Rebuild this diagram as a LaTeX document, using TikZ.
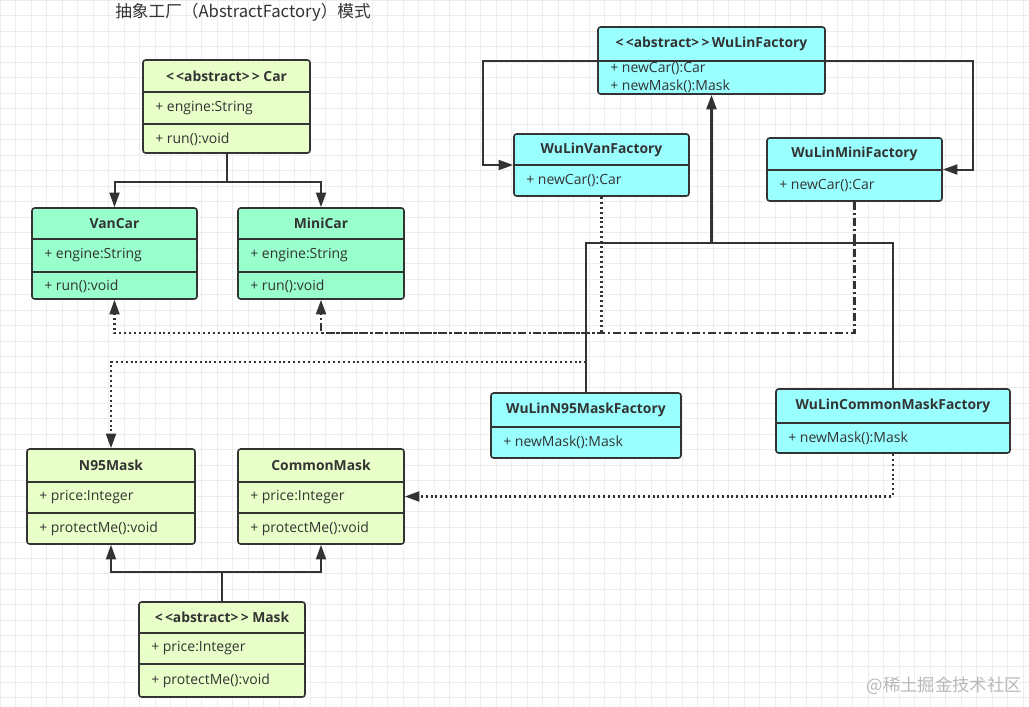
\documentclass[tikz,border=0pt]{standalone}
\usepackage{fontspec}
\setmainfont{Open Sans}
\newfontfamily\cjk{Noto Sans CJK SC}
\usetikzlibrary{arrows.meta, positioning, calc, fit}
\definecolor{linegray}{HTML}{333333}
\definecolor{gridgray}{HTML}{EDEDED}
\definecolor{palegreen}{HTML}{E9FFC9}
\definecolor{mintgreen}{HTML}{99FFCC}
\definecolor{factorycyan}{HTML}{99FFFF}

\begin{document}
\begin{tikzpicture}[x=0.75pt, y=-0.75pt, font=\fontsize{10.5}{12}\selectfont, text=linegray,
  classbox/.style = {draw=linegray, line width=1.2pt, rounded corners=2pt, inner sep=0pt},
  productbox/.style = {classbox, fill=palegreen},
  carbox/.style = {classbox, fill=mintgreen},
  factorybox/.style = {classbox, fill=factorycyan},
  classname/.style = {font=\fontsize{10.4}{12}\selectfont\bfseries, inner sep=0pt},
  member/.style = {anchor=west, inner sep=0pt},
  divider/.style = {draw=linegray, line width=1.2pt},
  gridline/.style = {draw=gridgray, line width=0.5pt},
  inherit/.style = {draw=linegray, line width=1.5pt, -{Triangle[length=11pt, width=7.5pt]}},
  dotline/.style = {inherit, line width=1.6pt, dash pattern=on 1.5pt off 2.2pt},
  dashdotline/.style = {inherit, line width=1.6pt, dash pattern=on 6pt off 2.2pt on 1.5pt off 2.2pt}
]
\useasboundingbox (0,0) rectangle (1029,707);
\fill[white] (0,0) rectangle (1029,707);
% background grid
\foreach \gx in {0,15.5,...,1029} \draw[gridline] (\gx,0) -- (\gx,707);
\foreach \gy in {0,15.5,...,707} \draw[gridline] (0,\gy) -- (1029,\gy);

\node[font=\cjk\fontsize{12.5}{15}\selectfont, anchor=west, inner sep=0pt] (title) at (115,12) {抽象工厂（AbstractFactory）模式};

% car side
\node[productbox, fit={(143,60) (310,153)}] (car) {};
\draw[divider] (car.west |- 0,92) -- (car.east |- 0,92);
\draw[divider] (car.west |- 0,124) -- (car.east |- 0,124);
\node[classname] (car-t) at (car.center |- 0,76) {<\,<abstract>\,> Car};
\node[member] (car-a) at (155,108) {+ engine:String};
\node[member] (car-m) at (155,139) {+ run():void};

\node[carbox, fit={(32,208) (197,299)}] (vancar) {};
\draw[divider] (vancar.west |- 0,239) -- (vancar.east |- 0,239);
\draw[divider] (vancar.west |- 0,272) -- (vancar.east |- 0,272);
\node[classname] (vancar-t) at (vancar.center |- 0,223.5) {VanCar};
\node[member] (vancar-a) at (44,255.5) {+ engine:String};
\node[member] (vancar-m) at (44,286) {+ run():void};

\node[carbox, fit={(238,208) (404,299)}] (minicar) {};
\draw[divider] (minicar.west |- 0,239) -- (minicar.east |- 0,239);
\draw[divider] (minicar.west |- 0,272) -- (minicar.east |- 0,272);
\node[classname] (minicar-t) at (minicar.center |- 0,223.5) {MiniCar};
\node[member] (minicar-a) at (250,255.5) {+ engine:String};
\node[member] (minicar-m) at (250,286) {+ run():void};

% mask side
\node[productbox, fit={(27,449) (195,544)}] (n95) {};
\draw[divider] (n95.west |- 0,482) -- (n95.east |- 0,482);
\draw[divider] (n95.west |- 0,513) -- (n95.east |- 0,513);
\node[classname] (n95-t) at (n95.center |- 0,465.5) {N95Mask};
\node[member] (n95-a) at (39,497.5) {+ price:Integer};
\node[member] (n95-m) at (39,528.5) {+ protectMe():void};

\node[productbox, fit={(238,449) (404,544)}] (cmask) {};
\draw[divider] (cmask.west |- 0,482) -- (cmask.east |- 0,482);
\draw[divider] (cmask.west |- 0,513) -- (cmask.east |- 0,513);
\node[classname] (cmask-t) at (cmask.center |- 0,465.5) {CommonMask};
\node[member] (cmask-a) at (250,497.5) {+ price:Integer};
\node[member] (cmask-m) at (250,528.5) {+ protectMe():void};

\node[productbox, fit={(139,602) (305,697)}] (mask) {};
\draw[divider] (mask.west |- 0,633) -- (mask.east |- 0,633);
\draw[divider] (mask.west |- 0,664) -- (mask.east |- 0,664);
\node[classname] (mask-t) at (mask.center |- 0,617.5) {<\,<abstract>\,> Mask};
\node[member] (mask-a) at (151,648.5) {+ price:Integer};
\node[member] (mask-m) at (151,680.5) {+ protectMe():void};

% factories
\node[factorybox, fit={(598,27) (825,94)}] (wlf) {};
\draw[divider] (wlf.west |- 0,61) -- (wlf.east |- 0,61);
\node[classname] (wlf-t) at (wlf.center |- 0,44) {<\,<abstract>\,>\,WuLinFactory};
\node[member] (wlf-c) at (610,69) {+ newCar():Car};
\node[member] (wlf-m) at (610,86) {+ newMask():Mask};

\node[factorybox, fit={(514,134) (689,196)}] (wlvf) {};
\draw[divider] (wlvf.west |- 0,165) -- (wlvf.east |- 0,165);
\node[classname] (wlvf-t) at (wlvf.center |- 0,149.5) {WuLinVanFactory};
\node[member] (wlvf-c) at (526,180.5) {+ newCar():Car};

\node[factorybox, fit={(767,138) (942,201)}] (wlmf) {};
\draw[divider] (wlmf.west |- 0,170) -- (wlmf.east |- 0,170);
\node[classname] (wlmf-t) at (wlmf.center |- 0,154) {WuLinMiniFactory};
\node[member] (wlmf-c) at (779,185.5) {+ newCar():Car};

\node[factorybox, fit={(491,393) (681,458)}] (n95f) {};
\draw[divider] (n95f.west |- 0,427) -- (n95f.east |- 0,427);
\node[classname] (n95f-t) at (n95f.center |- 0,410) {WuLinN95MaskFactory};
\node[member] (n95f-m) at (503,442.5) {+ newMask():Mask};

\node[factorybox, fit={(776,389) (1010,453)}] (cmf) {};
\draw[divider] (cmf.west |- 0,423) -- (cmf.east |- 0,423);
\node[classname] (cmf-t) at (cmf.center |- 0,406) {WuLinCommonMaskFactory};
\node[member] (cmf-m) at (788,438) {+ newMask():Mask};

% inheritance
\draw[inherit] (car.south) -- ++(0,28) -| (vancar.north);
\draw[inherit] (car.south) -- ++(0,28) -| (minicar.north);
\draw[inherit] (mask.north) -- ++(0,-29) -| (n95.south);
\draw[inherit] (mask.north) -- ++(0,-29) -| (cmask.south);
\draw[inherit] (wlf.west) -| ([xshift=-23pt]wlvf.west) -- (wlvf.west);
\draw[inherit] (wlf.east) -| ([xshift=23pt]wlmf.east) -- (wlmf.east);
\draw[inherit, -] (n95f.north) |- (wlf.south |- 0,243);
\draw[inherit, -] (cmf.north) |- (wlf.south |- 0,243);
\draw[inherit, line width=2pt] (wlf.south |- 0,243) -- (wlf.south);

% dependencies
\draw[dotline] (wlvf.south) -- (wlvf.south |- 0,333) -| (vancar.south);
\draw[dashdotline] (wlmf.south) -- (wlmf.south |- 0,333) -| (minicar.south);
\draw[dotline] (n95f.north) -- ++(0,-30) -| (n95.north);
\draw[dotline] (cmf.south) |- (cmask.east);

\node[font=\cjk\fontsize{13}{15}\selectfont, text=gray!55, anchor=east, inner sep=0pt] (mark) at (1022,686) {@稀土掘金技术社区};
\end{tikzpicture}
\end{document}
